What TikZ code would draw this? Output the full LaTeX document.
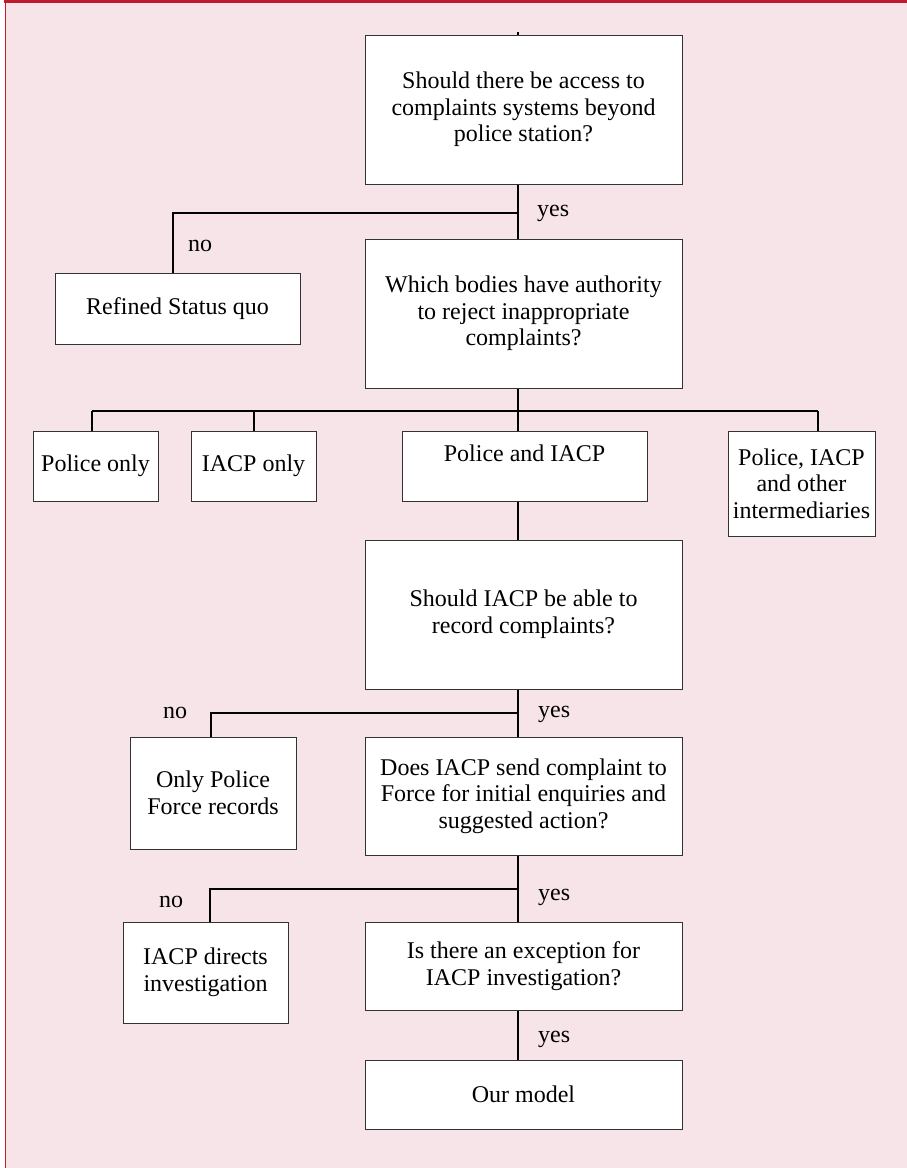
\documentclass[tikz,border=0pt]{standalone}
\usepackage{fontspec}
\setmainfont{Liberation Serif}
\definecolor{bgpink}{HTML}{F6E4E9}
\definecolor{redbar}{HTML}{BE1A30}
\definecolor{boxline}{HTML}{333333}
\begin{document}
\begin{tikzpicture}[x=1pt,y=-1pt,
  box/.style={draw=boxline, line width=1pt, fill=white, inner sep=0pt, align=center,
    font=\fontsize{24}{26.7}\selectfont},
  spine/.style={line width=1.3pt, black},
  branch/.style={line width=1.9pt, black},
  lbl/.style={anchor=base west, inner sep=0pt, font=\fontsize{24}{26.7}\selectfont}]
\useasboundingbox (0,0) rectangle (907,1168);
\fill[white] (0,0) rectangle (907,1168);
\fill[bgpink] (5,0) rectangle (907,1168);
\draw[redbar, line width=1pt] (5.5,0) -- (5.5,1168);
\fill[redbar] (4,0) rectangle (907,3.3);

% boxes
\node[box, minimum width=317pt, minimum height=149pt] (q1) at (523.5,109.5)
  {Should there be access to\\complaints systems beyond\\police station?};
\node[box, minimum width=317pt, minimum height=149pt] (q2) at (523.5,313.5)
  {Which bodies have authority\\to reject inappropriate\\complaints?};
\node[box, minimum width=245pt, minimum height=71pt] (rsq) at (177.5,308.5)
  {Refined Status quo};
\node[box, minimum width=125pt, minimum height=70pt] (po) at (95.5,466)
  {Police only};
\node[box, minimum width=125pt, minimum height=70pt] (io) at (253.5,466)
  {IACP only};
\node[box, minimum width=245pt, minimum height=70pt] (pi) at (524.5,466)
  {Police and IACP\\[-10pt]\strut};
\node[box, minimum width=147pt, minimum height=105pt] (pio) at (801.5,483.5)
  {Police, IACP\\and other\\intermediaries};
\node[box, minimum width=317pt, minimum height=149pt] (q3) at (523.5,614.5)
  {Should IACP be able to\\record complaints?};
\node[box, minimum width=166pt, minimum height=112pt] (opf) at (213,793)
  {Only Police\\Force records};
\node[box, minimum width=317pt, minimum height=118pt] (q4) at (523.5,796)
  {Does IACP send complaint to\\Force for initial enquiries and\\suggested action?};
\node[box, minimum width=165pt, minimum height=101pt] (idi) at (205.5,972.5)
  {IACP directs\\investigation};
\node[box, minimum width=317pt, minimum height=88pt] (q5) at (523.5,966)
  {Is there an exception for\\IACP investigation?};
\node[box, minimum width=317pt, minimum height=69pt] (om) at (523.5,1094.5)
  {Our model};

% junction coordinates
\coordinate (top) at (518,32);
\coordinate (j1) at (518,213);
\coordinate (d1) at (173,213);
\coordinate (j2) at (518,411);
\coordinate (d2a) at (92,411);
\coordinate (d2b) at (254,411);
\coordinate (d2d) at (818,411);
\coordinate (j3) at (518,713);
\coordinate (d3) at (211,713);
\coordinate (j4) at (518,889);
\coordinate (d4) at (210,889);

% connectors
\draw[spine] (top) -- (q1.north -| top);
\draw[spine] (q1.south -| j1) -- (q2.north -| j1);
\draw[branch] (j1) -- (d1) -- (d1 |- rsq.north);
\draw[spine] (q2.south -| j2) -- (pi.north -| j2);
\draw[branch] (d2a) -- (d2d);
\draw[branch] (d2a) -- (d2a |- po.north);
\draw[branch] (d2b) -- (d2b |- io.north);
\draw[branch] (d2d) -- (d2d |- pio.north);
\draw[spine] (pi.south -| j2) -- (q3.north -| j2);
\draw[spine] (q3.south -| j3) -- (q4.north -| j3);
\draw[branch] (j3) -- (d3) -- (d3 |- opf.north);
\draw[spine] (q4.south -| j4) -- (q5.north -| j4);
\draw[branch] (j4) -- (d4) -- (d4 |- idi.north);
\draw[spine] (q5.south -| j4) -- (om.north -| j4);

% labels
\node[lbl] (y1) at (537,216) {yes};
\node[lbl] (n1) at (188,251) {no};
\node[lbl] (y2) at (538,717) {yes};
\node[lbl] (n2) at (163,718) {no};
\node[lbl] (y3) at (538,900) {yes};
\node[lbl] (n3) at (159,907) {no};
\node[lbl] (y4) at (538,1042) {yes};
\end{tikzpicture}
\end{document}
